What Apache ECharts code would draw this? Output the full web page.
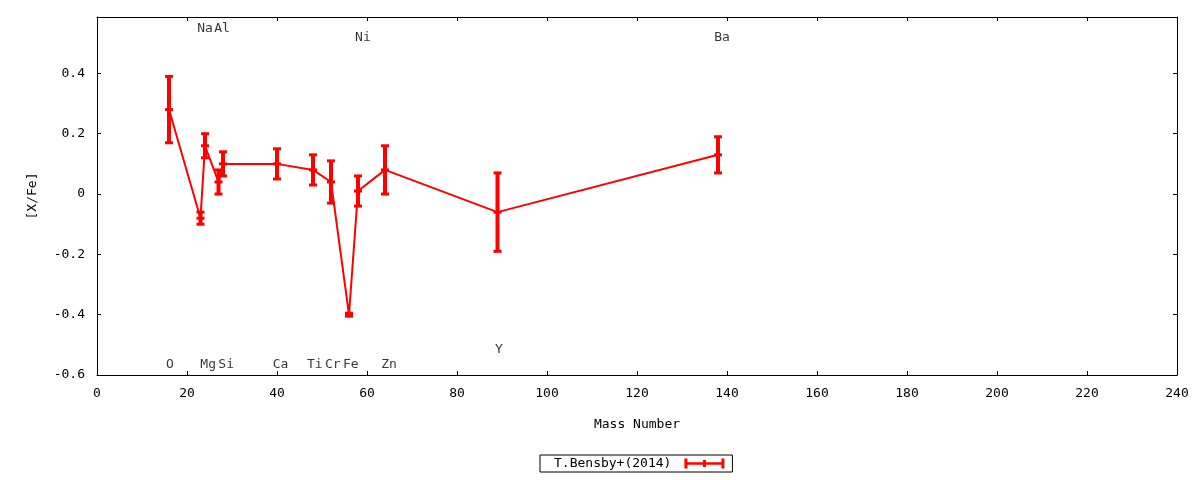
<!DOCTYPE html>
<html>
<head>
<meta charset="utf-8">
<script src="https://cdn.jsdelivr.net/npm/echarts@6/dist/echarts.min.js"></script>
<style>
  html, body { margin: 0; padding: 0; background: #fff; }
  #chart { width: 1200px; height: 480px; }
</style>
</head>
<body>
<div id="chart"></div>
<script>
// 数据：质量数、[X/Fe] 和误差
var elements = ['O', 'Na', 'Mg', 'Al', 'Si', 'Ca', 'Ti', 'Cr', 'Fe', 'Ni', 'Zn', 'Y', 'Ba'];
var massNumbers = [16, 23, 24, 27, 28, 40, 48, 52, 56, 58, 64, 89, 138];
var xFe = [0.28, -0.08, 0.16, 0.04, 0.10, 0.10, 0.08, 0.04, -0.40, 0.01, 0.08, -0.06, 0.13];
var xFeErr = [0.11, 0.02, 0.04, 0.04, 0.04, 0.05, 0.05, 0.07, 0.005, 0.05, 0.08, 0.13, 0.06];

// 元素名标注的位置
var labelNames = ['Na', 'Al', 'Ni', 'Ba', 'O', 'Mg', 'Si', 'Ca', 'Ti', 'Cr', 'Fe', 'Zn', 'Y'];
var labelX = [24, 27.8, 59.1, 138.9, 16.2, 24.7, 28.7, 40.8, 48.4, 52.4, 56.4, 64.9, 89.3];
var labelY = [0.55, 0.55, 0.517, 0.517, -0.564, -0.564, -0.564, -0.564, -0.564, -0.564, -0.564, -0.564, -0.517];

var xTicks = [0, 240, 20];
var yTicks = [-0.6, 0.587, 0.2];
var seriesName = 'T.Bensby+(2014)';

var FONT = 'DejaVu Sans Mono';
var RED = '#ff0000';

var chart = echarts.init(document.getElementById('chart'));

var lineData = massNumbers.map(function (m, i) { return [m, xFe[i]]; });
var errData = massNumbers.map(function (m, i) {
  return [m, xFe[i], xFe[i] - xFeErr[i], xFe[i] + xFeErr[i]];
});
var labelData = labelNames.map(function (n, i) {
  return { name: n, value: [labelX[i], labelY[i]] };
});

// 误差棒：竖线 + 上下横帽 + 中间短横
function renderErr(params, api) {
  var p = api.coord([api.value(0), api.value(1)]);
  var lo = api.coord([api.value(0), api.value(2)]);
  var hi = api.coord([api.value(0), api.value(3)]);
  var hw = 4;
  var style = { stroke: RED, lineWidth: 4 };
  var capStyle = { stroke: RED, lineWidth: 3 };
  return {
    type: 'group',
    children: [
      { type: 'line', shape: { x1: p[0], y1: lo[1], x2: p[0], y2: hi[1] }, style: style },
      { type: 'line', shape: { x1: p[0] - hw, y1: lo[1], x2: p[0] + hw, y2: lo[1] }, style: capStyle },
      { type: 'line', shape: { x1: p[0] - hw, y1: hi[1], x2: p[0] + hw, y2: hi[1] }, style: capStyle },
      { type: 'line', shape: { x1: p[0] - hw, y1: p[1], x2: p[0] + hw, y2: p[1] }, style: capStyle }
    ]
  };
}

var tickStyle = { inside: true, length: 4, lineStyle: { color: '#000', width: 1 } };
var axisLineStyle = { show: true, onZero: false, lineStyle: { color: '#000', width: 1 } };
var labelStyle = { color: '#000', fontFamily: FONT, fontSize: 13 };

option = {
  backgroundColor: '#fff',
  animation: false,
  textStyle: { fontFamily: FONT },
  grid: { left: 97, right: 23, top: 17, bottom: 105 },
  legend: {
    data: [{
      name: seriesName,
      icon: 'path://M0,0h3v10h-3z M3,3.8h34v2.4h-34z M37,0h3v10h-3z M18.5,1.5h3v7h-3z',
      itemStyle: { color: RED }
    }],
    left: 540,
    top: 455,
    width: 192,
    align: 'right',
    itemWidth: 40,
    itemHeight: 10,
    itemGap: 0,
    padding: [2, 8, 2, 14],
    borderColor: '#000',
    borderWidth: 1,
    borderRadius: 0,
    textStyle: { color: '#000', fontFamily: FONT, fontSize: 13, padding: [0, 8, 0, 0] }
  },
  xAxis: [{
    type: 'value',
    min: xTicks[0], max: xTicks[1], interval: xTicks[2],
    name: 'Mass Number',
    nameLocation: 'middle',
    nameGap: 43,
    nameTextStyle: labelStyle,
    axisLine: axisLineStyle,
    axisTick: tickStyle,
    axisLabel: Object.assign({ margin: 12 }, labelStyle),
    splitLine: { show: false }
  }, {
    type: 'value', position: 'top',
    min: xTicks[0], max: xTicks[1], interval: xTicks[2],
    axisLine: axisLineStyle,
    axisTick: tickStyle,
    axisLabel: { show: false },
    splitLine: { show: false }
  }],
  yAxis: [{
    type: 'value',
    min: yTicks[0], max: yTicks[1], interval: yTicks[2],
    name: '[X/Fe]',
    nameLocation: 'middle',
    nameGap: 58,
    nameRotate: 90,
    nameTextStyle: labelStyle,
    axisLine: axisLineStyle,
    axisTick: tickStyle,
    axisLabel: Object.assign({
      margin: 12,
      showMaxLabel: false,
      formatter: function (v) {
        var r = Math.round(v * 10) / 10;
        return r === 0 ? '0' : r.toFixed(1);
      }
    }, labelStyle),
    splitLine: { show: false }
  }, {
    type: 'value', position: 'right',
    min: yTicks[0], max: yTicks[1], interval: yTicks[2],
    axisLine: axisLineStyle,
    axisTick: tickStyle,
    axisLabel: { show: false },
    splitLine: { show: false }
  }],
  series: [{
    name: seriesName,
    type: 'line',
    data: lineData,
    symbol: 'none',
    lineStyle: { color: RED, width: 2 },
    itemStyle: { color: RED },
    z: 3
  }, {
    name: seriesName,
    type: 'custom',
    data: errData,
    renderItem: renderErr,
    encode: { x: 0, y: [1, 2, 3] },
    z: 4
  }, {
    name: 'labels',
    type: 'scatter',
    data: labelData,
    symbolSize: 0,
    label: {
      show: true,
      position: 'inside',
      formatter: '{b}',
      color: '#000',
      fontFamily: FONT,
      fontSize: 13
    },
    z: 5
  }]
};

chart.setOption(option);
</script>
</body>
</html>
